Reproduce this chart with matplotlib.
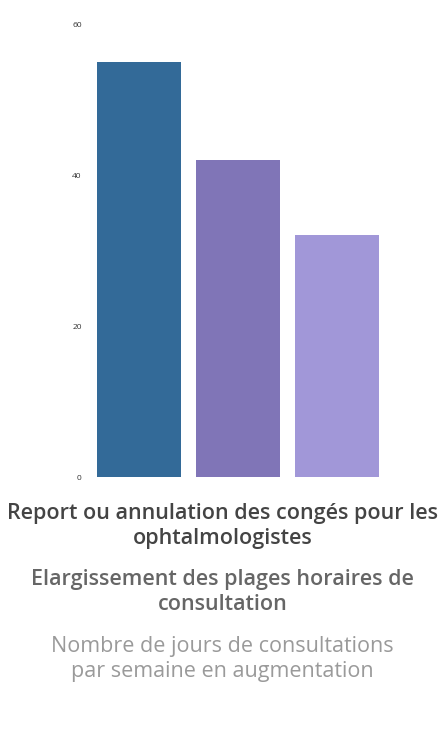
import matplotlib.pyplot as plt
import numpy as np

categories = [
    "Report ou annulation des congés pour les\nophtalmologistes",
    "Elargissement des plages horaires de\nconsultation",
    "Nombre de jours de consultations\npar semaine en augmentation",
]
values = [55, 42, 32]
yticks = [0, 20, 40, 60]

bar_colors = ["#336a98", "#8075b7", "#a197d8"]
text_colors = ["#444444", "#666666", "#9a9a9a"]
text_weights = ["semibold", "semibold", "normal"]

plt.rcParams["font.family"] = ["Open Sans", "DejaVu Sans"]

fig = plt.figure(figsize=(4.45, 7.3), dpi=100)
ax = fig.add_axes([90 / 445, 1 - 477 / 730, 296 / 445, 453 / 730])

x = np.arange(len(values))
ax.bar(x, values, width=0.85, color=bar_colors)
ax.set_xlim(-0.5, 2.5)
ax.set_ylim(0, 60)
ax.set_yticks(yticks)
ax.set_yticklabels([str(t) for t in yticks], fontsize=6, color="#333333")
ax.tick_params(axis="y", length=0, pad=6)
ax.set_xticks([])
for s in ax.spines.values():
    s.set_visible(False)

text_y = [526, 592, 659]
for label, yy, c, w in zip(categories, text_y, text_colors, text_weights):
    fig.text(0.5, 1 - yy / 730, label, ha="center", va="center", fontsize=15.5,
             color=c, fontweight=w, linespacing=1.28)

plt.savefig("out.png", dpi=100)
